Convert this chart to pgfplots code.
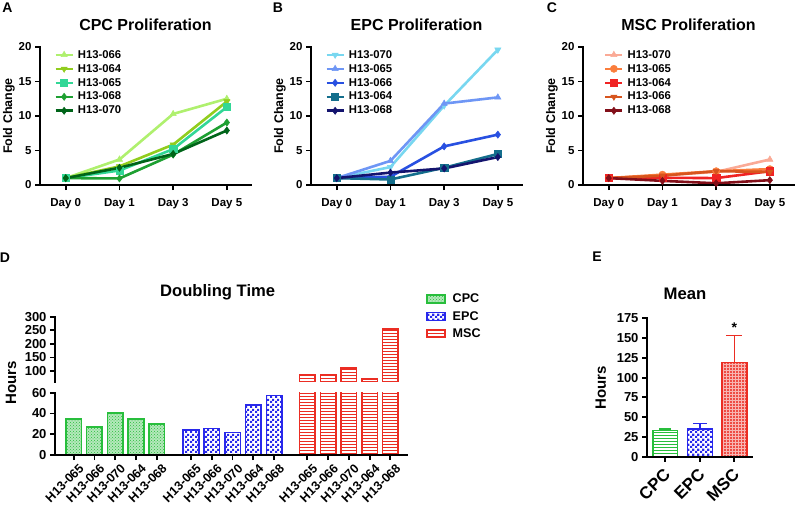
\documentclass[border=0pt]{standalone}
\usepackage{fontspec}
\setmainfont{Liberation Sans}
\usepackage{pgfplots}
\pgfplotsset{compat=1.18}
\usetikzlibrary{patterns,patterns.meta}

% CPC lines
\definecolor{a66}{RGB}{175,240,110}
\definecolor{a64}{RGB}{145,205,30}
\definecolor{a65}{RGB}{50,215,150}
\definecolor{a68}{RGB}{30,160,50}
\definecolor{a70}{RGB}{0,100,25}
% EPC lines
\definecolor{b70}{RGB}{120,215,240}
\definecolor{b65}{RGB}{110,150,245}
\definecolor{b66}{RGB}{40,80,225}
\definecolor{b64}{RGB}{20,110,140}
\definecolor{b68}{RGB}{20,20,110}
% MSC lines
\definecolor{c70}{RGB}{250,170,150}
\definecolor{c65}{RGB}{250,125,60}
\definecolor{c64}{RGB}{240,35,35}
\definecolor{c66}{RGB}{215,85,30}
\definecolor{c68}{RGB}{130,15,25}
% bars
\definecolor{cpcG}{RGB}{40,190,60}
\definecolor{epcB}{RGB}{40,40,235}
\definecolor{mscR}{RGB}{235,45,35}

\tikzdeclarepattern{
  name=smallchecker, type=uncolored,
  bottom left={(0pt,0pt)}, top right={(5pt,5pt)}, tile size={(5pt,5pt)},
  code={
    \pgfpathrectangle{\pgfpointorigin}{\pgfpoint{2.5pt}{2.5pt}}
    \pgfpathrectangle{\pgfpoint{2.5pt}{2.5pt}}{\pgfpoint{2.5pt}{2.5pt}}
    \pgfusepath{fill}
  }
}

\newcommand{\fs}[1]{\fontsize{#1}{#1}\selectfont\bfseries}

\pgfplotsset{
  gp/.style={
    scale only axis, axis on top,
    axis x line*=bottom, axis y line*=left,
    axis line style={line width=1.8pt, line cap=rect},
    every tick/.style={black, line width=1.8pt},
    tick align=outside, major tick length=5pt,
    tick label style={font=\fs{11.5}},
    /pgf/number format/assume math mode=true,
    title style={font=\fs{16}},
  },
  prolif/.style={gp, clip=false,
    width=211pt, height=138pt,
    xmin=-0.48, xmax=3.45, ymin=0, ymax=20,
    xtick={0,1,2,3}, xticklabels={Day 0,Day 1,Day 3,Day 5},
    xticklabel style={yshift=-5pt},
    ytick={0,5,10,15,20},
    ylabel={Fold Change},
    ylabel style={font=\fs{12.5}, at={(axis description cs:-0.147,0.5)}, anchor=center},
    title style={at={(axis description cs:0.5,1)}, anchor=base, yshift=11pt},
    legend style={anchor=north west, draw=none, fill=none, inner sep=0pt,
      font=\fs{11.3}, row sep=2.6pt, column sep=3pt, nodes={inner sep=1pt}},
    legend cell align=left,
    legend image code/.code={\draw[mark repeat=2, mark phase=2, ##1]
      plot coordinates {(0pt,0pt) (8.5pt,0pt) (17pt,0pt)};},
  },
  ln/.style={line width=2.6pt, mark size=3.6pt, mark options={solid, line width=0.5pt}},
  inv/.style={mark=triangle*, mark options={rotate=180, line width=0.5pt}},
  barD/.style={ybar, bar width=0.75, bar shift=0pt, line width=1.5pt},
  cpcD/.style={barD, draw=cpcG, fill=cpcG!35,
    postaction={pattern=crosshatch dots, pattern color=cpcG}},
  epcD/.style={barD, draw=epcB, pattern=smallchecker, pattern color=epcB},
  mscD/.style={barD, draw=mscR, pattern=horizontal lines, pattern color=mscR},
}

\begin{document}
\begin{tikzpicture}

% ---------- A: CPC ----------
\begin{axis}[prolif, at={(40pt,-185pt)}, anchor=south west,
  title={CPC Proliferation},
  legend style={at={(axis description cs:0.067,0.986)}}]
\addplot[ln, a66, mark=triangle*] coordinates {(0,1) (1,3.7) (2,10.3) (3,12.5)};
\addplot[ln, a64, inv] coordinates {(0,1) (1,2.7) (2,5.85) (3,12.1)};
\addplot[ln, a65, mark=square*] coordinates {(0,1) (1,2.1) (2,5.2) (3,11.3)};
\addplot[ln, a68, mark=diamond*] coordinates {(0,1) (1,0.95) (2,4.4) (3,9.05)};
\addplot[ln, a70, mark=diamond*] coordinates {(0,1) (1,2.5) (2,4.5) (3,7.9)};
\legend{H13-066,H13-064,H13-065,H13-068,H13-070}
\end{axis}

% ---------- B: EPC ----------
\begin{axis}[prolif, at={(311pt,-185pt)}, anchor=south west,
  title={EPC Proliferation},
  legend style={at={(axis description cs:0.067,0.986)}}]
\addplot[ln, b70, inv] coordinates {(0,1) (1,2.6) (2,11.5) (3,19.6)};
\addplot[ln, b65, mark=triangle*] coordinates {(0,1) (1,3.5) (2,11.8) (3,12.7)};
\addplot[ln, b66, mark=diamond*] coordinates {(0,1) (1,1.2) (2,5.6) (3,7.3)};
\addplot[ln, b64, mark=square*] coordinates {(0,1) (1,0.8) (2,2.5) (3,4.5)};
\addplot[ln, b68, mark=diamond*] coordinates {(0,1) (1,1.8) (2,2.4) (3,4.05)};
\legend{H13-070,H13-065,H13-066,H13-064,H13-068}
\end{axis}

% ---------- C: MSC ----------
\begin{axis}[prolif, at={(583pt,-185pt)}, anchor=south west,
  title={MSC Proliferation},
  legend style={at={(axis description cs:0.099,0.986)}}]
\addplot[ln, c70, mark=triangle*] coordinates {(0,1) (1,1.4) (2,1.9) (3,3.7)};
\addplot[ln, c65, mark=*] coordinates {(0,1) (1,1.5) (2,2.0) (3,2.3)};
\addplot[ln, c64, mark=square*] coordinates {(0,1) (1,1.05) (2,1.0) (3,2.0)};
\addplot[ln, c66, inv] coordinates {(0,1) (1,1.35) (2,2.0) (3,1.9)};
\addplot[ln, c68, mark=diamond*] coordinates {(0,1) (1,0.6) (2,0.25) (3,0.7)};
\legend{H13-070,H13-065,H13-064,H13-066,H13-068}
\end{axis}

% ---------- D: doubling time, lower part ----------
\begin{axis}[gp, at={(55pt,-455pt)}, anchor=south west,
  width=352pt, height=62.3pt,
  xmin=0.1, xmax=17.05, ymin=0, ymax=60,
  ytick={0,20,40,60},
  tick label style={font=\fs{13}},
  xtick={1,2,3,4,5,6.65,7.65,8.65,9.65,10.65,12.25,13.25,14.25,15.25,16.25},
  xticklabels={H13-065,H13-066,H13-070,H13-064,H13-068,
               H13-065,H13-066,H13-070,H13-064,H13-068,
               H13-065,H13-066,H13-070,H13-064,H13-068},
  xticklabel style={font=\fs{12.5}, xshift=8pt, yshift=-6pt, rotate=45, anchor=east, inner sep=0pt},
  ylabel={Hours},
  ylabel style={font=\fs{15}, at={(axis description cs:-0.125,1.156)}, anchor=center},
]
\addplot[cpcD] coordinates {(1,34.5) (2,27) (3,40.3) (4,34.5) (5,30)};
\addplot[epcD] coordinates {(6.65,24) (7.65,25.5) (8.65,21.6) (9.65,48) (10.65,57.4)};
\addplot[mscD] coordinates {(12.25,85.4) (13.25,85) (14.25,112) (15.25,70.7) (16.25,254.7)};
\end{axis}

% ---------- D: doubling time, upper part ----------
\begin{axis}[gp, at={(55pt,-381.9pt)}, anchor=south west,
  width=352pt, height=65.2pt,
  xmin=0.1, xmax=17.05, ymin=60, ymax=300,
  axis x line=none, xtick=\empty,
  ytick={100,150,200,250,300},
  tick label style={font=\fs{13}},
  title={Doubling Time},
  title style={at={(axis description cs:0.462,1)}, anchor=base, yshift=14pt, font=\fs{16.6}},
  legend style={at={(axis description cs:1.054,1.368)}, anchor=north west,
    draw=none, fill=none, inner sep=0pt, font=\fs{12.6}, row sep=5pt, column sep=6pt,
    nodes={inner sep=1pt}},
  legend cell align=left,
]
\addplot[mscD, forget plot] coordinates {(12.25,85.4) (13.25,85) (14.25,112) (15.25,70.7) (16.25,254.7)};
\addlegendimage{legend image code/.code={\draw[draw=cpcG, line width=1.5pt, fill=cpcG!35,
  postaction={pattern=crosshatch dots, pattern color=cpcG}] (0pt,-4pt) rectangle (18pt,4pt);}}
\addlegendentry{CPC}
\addlegendimage{legend image code/.code={\draw[draw=epcB, line width=1.5pt,
  pattern=smallchecker, pattern color=epcB] (0pt,-4pt) rectangle (18pt,4pt);}}
\addlegendentry{EPC}
\addlegendimage{legend image code/.code={\draw[draw=mscR, line width=1.5pt,
  pattern=horizontal lines, pattern color=mscR] (0pt,-4pt) rectangle (18pt,4pt);}}
\addlegendentry{MSC}
\end{axis}

% ---------- E: mean ----------
\begin{axis}[gp, at={(647pt,-456.7pt)}, anchor=south west,
  width=105pt, height=138.4pt,
  xmin=-0.53, xmax=2.51, ymin=0, ymax=175,
  ytick={0,25,...,175},
  tick label style={font=\fs{13}},
  xtick={0,1,2}, xticklabels={CPC,EPC,MSC},
  xticklabel style={font=\fs{17}, xshift=2pt, yshift=-10pt, rotate=45, anchor=east, inner sep=0pt},
  ylabel={Hours},
  ylabel style={font=\fs{15}, at={(axis description cs:-0.44,0.5)}, anchor=center},
  title={Mean},
  title style={at={(axis description cs:0.362,1)}, anchor=base, yshift=13pt, font=\fs{16.7}},
]
\addplot[ybar, bar width=0.72, bar shift=0pt, draw=cpcG, line width=1.5pt,
  pattern=horizontal lines, pattern color=cpcG,
  error bars/.cd, y dir=plus, y explicit,
  error bar style={cpcG, line width=1.5pt},
  error mark options={cpcG, rotate=90, mark size=6pt, line width=1.5pt}]
  coordinates {(0,33) +- (0,2)};
\addplot[ybar, bar width=0.72, bar shift=0pt, draw=epcB, line width=1.5pt,
  pattern=smallchecker, pattern color=epcB,
  error bars/.cd, y dir=plus, y explicit,
  error bar style={epcB, line width=1.5pt},
  error mark options={epcB, rotate=90, mark size=7pt, line width=1.5pt}]
  coordinates {(1,35.3) +- (0,6.5)};
\addplot[ybar, bar width=0.72, bar shift=0pt, draw=mscR, line width=1.5pt,
  fill=mscR!85, postaction={pattern=grid, pattern color=mscR!35},
  error bars/.cd, y dir=plus, y explicit,
  error bar style={mscR, line width=1.5pt},
  error mark options={mscR, rotate=90, mark size=8pt, line width=1.5pt}]
  coordinates {(2,119) +- (0,34)};
\node[font=\fs{14}] at (axis cs:2,163) {*};
\end{axis}

% panel letters
\node[font=\fs{14}] at (7.5pt,-8pt) {A};
\node[font=\fs{14}] at (278pt,-8pt) {B};
\node[font=\fs{14}] at (552pt,-8pt) {C};
\node[font=\fs{14}] at (5pt,-258pt) {D};
\node[font=\fs{14}] at (597pt,-257pt) {E};

\pgfresetboundingbox
\path (0pt,0pt) rectangle (800pt,-508pt);
\end{tikzpicture}
\end{document}
